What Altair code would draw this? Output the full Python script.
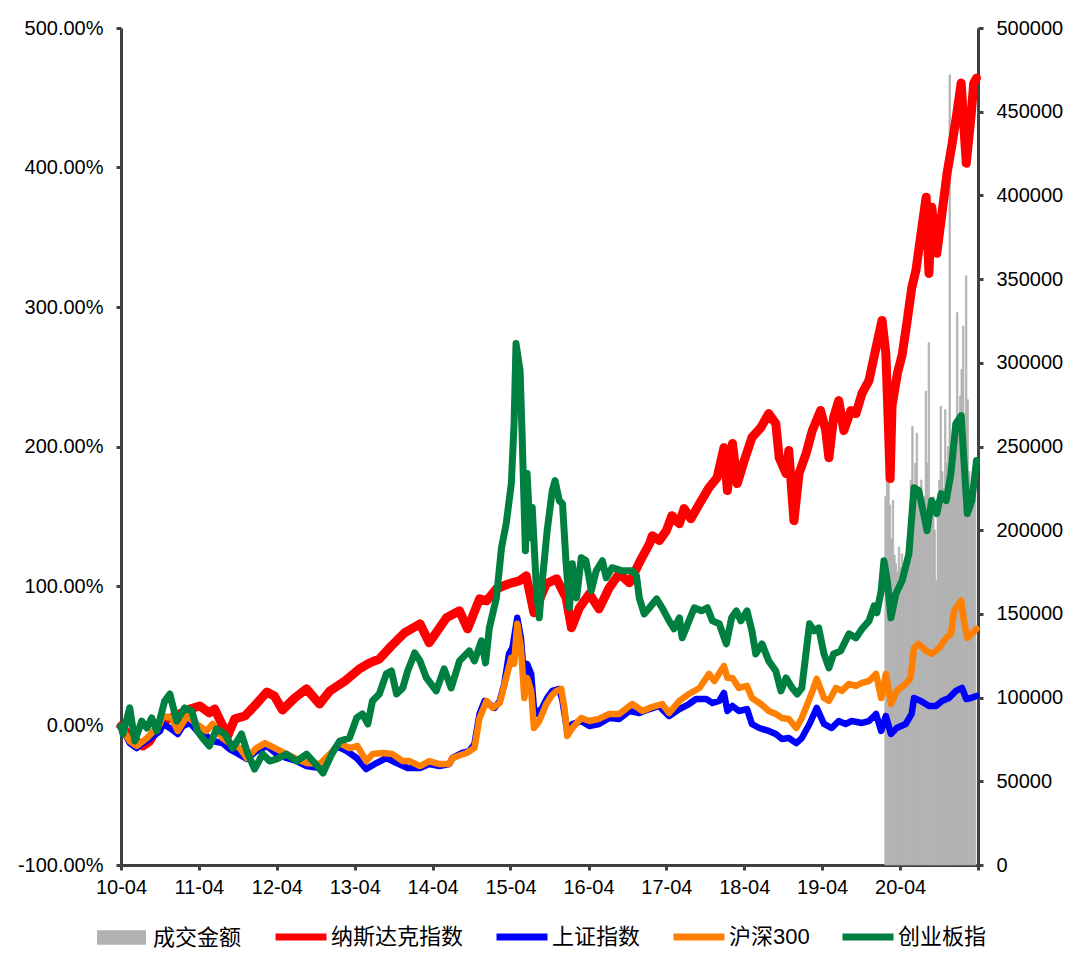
import altair as alt
import pandas as pd

FONT = "Liberation Sans, Arial, 'Noto Sans CJK SC', sans-serif"

SERIES_NAMES = ["纳斯达克指数", "上证指数", "沪深300", "创业板指"]
SERIES_COLORS = ["#ff0000", "#0000ff", "#ff8000", "#008040"]
SERIES_WIDTHS = [9, 6.5, 6.5, 7]
VOLUME_NAME = "成交金额"
VOLUME_COLOR = "#b2b2b2"

# cumulative return (%)
NASDAQ = [
    ("2010-04-01", -0.4), ("2010-05-12", -7.5), ("2010-07-12", -14.7), ("2010-08-14", -11.1),
    ("2010-10-01", 1.8), ("2010-12-10", 6.8), ("2011-02-18", 11.8), ("2011-04-05", 14.0),
    ("2011-05-20", 9.0), ("2011-06-14", 11.8), ("2011-08-14", -7.5), ("2011-09-16", 4.7),
    ("2011-11-03", 6.8), ("2011-12-18", 14.0), ("2012-02-14", 24.0), ("2012-03-20", 21.2),
    ("2012-04-27", 11.1), ("2012-06-23", 19.7), ("2012-08-18", 26.2), ("2012-10-18", 15.4),
    ("2012-12-05", 24.8), ("2013-02-14", 31.9), ("2013-04-23", 40.6), ("2013-06-10", 44.9),
    ("2013-07-25", 47.7), ("2013-09-20", 57.1), ("2013-11-20", 66.4), ("2014-02-01", 72.9),
    ("2014-03-16", 59.3), ("2014-06-05", 77.2), ("2014-08-05", 82.2), ("2014-09-12", 69.3),
    ("2014-11-07", 90.8), ("2014-12-10", 89.4), ("2015-01-25", 98.0), ("2015-03-25", 101.6),
    ("2015-05-12", 103.7), ("2015-06-14", 107.3), ("2015-07-20", 80.8), ("2015-09-16", 101.6),
    ("2015-11-03", 105.2), ("2015-12-18", 91.5), ("2016-01-12", 70.0), ("2016-02-18", 84.4),
    ("2016-04-05", 94.4), ("2016-05-20", 83.6), ("2016-07-07", 98.7), ("2016-08-23", 108.8),
    ("2016-10-10", 102.3), ("2016-11-25", 116.7), ("2017-01-12", 130.3), ("2017-01-25", 136.0),
    ("2017-02-27", 132.5), ("2017-04-01", 139.7), ("2017-04-27", 150.4), ("2017-06-01", 144.7),
    ("2017-06-23", 155.5), ("2017-07-25", 148.2), ("2017-09-03", 159.0), ("2017-10-18", 170.5),
    ("2017-11-25", 177.7), ("2017-12-27", 199.2), ("2018-01-12", 168.4), ("2018-02-05", 202.1),
    ("2018-02-27", 173.4), ("2018-04-01", 189.9), ("2018-05-07", 206.4), ("2018-06-18", 213.6),
    ("2018-07-25", 223.6), ("2018-08-27", 216.4), ("2018-09-12", 192.0), ("2018-10-14", 180.6),
    ("2018-10-27", 197.1), ("2018-11-20", 146.8), ("2018-12-14", 180.6), ("2019-01-16", 195.0),
    ("2019-02-14", 211.4), ("2019-03-25", 225.8), ("2019-04-18", 211.4), ("2019-05-03", 192.0),
    ("2019-05-25", 220.7), ("2019-06-18", 232.9), ("2019-07-12", 211.4), ("2019-08-14", 225.8),
    ("2019-09-07", 223.6), ("2019-10-05", 238.0), ("2019-11-07", 247.3), ("2019-12-10", 271.0),
    ("2020-01-07", 290.4), ("2020-01-25", 266.7), ("2020-02-05", 218.6), ("2020-02-14", 177.0),
    ("2020-02-23", 229.4), ("2020-03-20", 253.1), ("2020-04-10", 265.3), ("2020-05-03", 289.0),
    ("2020-05-25", 313.4), ("2020-06-14", 326.3), ("2020-06-27", 340.6), ("2020-07-12", 357.2),
    ("2020-08-01", 378.7), ("2020-08-14", 324.1), ("2020-08-27", 371.5), ("2020-09-20", 338.5),
    ("2020-10-14", 367.1), ("2020-11-07", 395.8), ("2020-12-01", 417.4), ("2020-12-23", 438.9),
    ("2021-01-12", 460.5), ("2021-01-25", 428.9), ("2021-02-05", 403.1), ("2021-02-27", 436.1),
    ("2021-03-12", 460.5), ("2021-03-25", 464.1),
]

SSE = [
    ("2010-04-01", -0.4), ("2010-05-12", -12.6), ("2010-06-14", -16.2), ("2010-07-12", -12.6),
    ("2010-08-14", -9.7), ("2010-10-01", -3.9), ("2010-10-14", 1.1), ("2010-11-16", -1.8),
    ("2010-12-23", -6.1), ("2011-01-16", -0.4), ("2011-02-18", 1.8), ("2011-03-25", -3.9),
    ("2011-05-07", -7.5), ("2011-06-05", -11.1), ("2011-07-20", -12.6), ("2011-08-23", -16.9),
    ("2011-09-25", -19.7), ("2011-11-12", -24.0), ("2011-12-27", -18.3), ("2012-02-14", -14.7),
    ("2012-04-01", -20.5), ("2012-05-16", -23.3), ("2012-07-03", -25.5), ("2012-08-18", -29.1),
    ("2012-10-18", -30.5), ("2012-11-12", -26.9), ("2013-01-07", -14.7), ("2013-02-23", -18.3),
    ("2013-04-10", -23.3), ("2013-05-25", -31.2), ("2013-07-12", -26.9), ("2013-08-27", -23.3),
    ("2013-10-14", -26.9), ("2013-12-05", -30.5), ("2014-02-01", -30.5), ("2014-03-16", -27.6),
    ("2014-05-03", -29.1), ("2014-06-18", -27.6), ("2014-07-03", -23.3), ("2014-08-18", -19.7),
    ("2014-09-20", -18.3), ("2014-10-14", -13.3), ("2014-11-07", 8.3), ("2014-12-01", 17.6),
    ("2014-12-23", 15.4), ("2015-01-16", 12.6), ("2015-02-10", 17.6), ("2015-03-03", 29.8),
    ("2015-03-25", 51.3), ("2015-04-10", 55.6), ("2015-05-03", 77.2), ("2015-05-20", 62.8),
    ("2015-06-05", 31.9), ("2015-06-18", 44.2), ("2015-07-07", 37.0), ("2015-07-20", 12.6),
    ("2015-08-05", 8.3), ("2015-08-27", 12.6), ("2015-09-20", 19.7), ("2015-10-14", 24.8),
    ("2015-11-16", 26.2), ("2015-12-01", 17.6), ("2015-12-23", -3.9), ("2016-01-16", 1.1),
    ("2016-02-27", 3.2), ("2016-04-05", -0.4), ("2016-05-20", 1.1), ("2016-07-07", 5.4),
    ("2016-08-23", 4.7), ("2016-10-10", 10.4), ("2016-11-25", 9.0), ("2017-01-12", 11.8),
    ("2017-02-27", 14.0), ("2017-03-20", 10.4), ("2017-04-14", 6.8), ("2017-06-01", 11.8),
    ("2017-07-16", 15.4), ("2017-08-18", 19.0), ("2017-10-05", 19.0), ("2017-11-03", 16.2),
    ("2017-12-05", 17.6), ("2017-12-27", 23.3), ("2018-01-12", 10.4), ("2018-02-05", 14.0),
    ("2018-03-07", 10.4), ("2018-04-14", 11.8), ("2018-05-07", 1.1), ("2018-06-10", -1.8),
    ("2018-07-25", -3.9), ("2018-08-27", -6.1), ("2018-09-25", -9.7), ("2018-10-27", -9.0),
    ("2018-12-01", -12.6), ("2018-12-27", -9.0), ("2019-02-01", 1.1), ("2019-03-07", 12.6),
    ("2019-04-10", 1.1), ("2019-05-16", -1.8), ("2019-06-18", 3.2), ("2019-07-20", 1.1),
    ("2019-08-18", 3.2), ("2019-10-05", 1.8), ("2019-11-07", 3.2), ("2019-12-10", 8.3),
    ("2020-01-03", -3.9), ("2020-01-25", 6.8), ("2020-02-18", -6.1), ("2020-03-16", -1.8),
    ("2020-04-27", 1.1), ("2020-05-25", 8.3), ("2020-06-05", 19.7), ("2020-07-07", 17.6),
    ("2020-08-14", 14.0), ("2020-09-16", 14.0), ("2020-10-14", 17.6), ("2020-11-16", 19.7),
    ("2020-12-18", 24.8), ("2021-01-16", 26.9), ("2021-02-05", 19.0), ("2021-02-27", 19.7),
    ("2021-03-25", 21.2),
]

CSI300 = [
    ("2010-04-01", -0.4), ("2010-05-12", -11.1), ("2010-06-14", -14.7), ("2010-08-01", -9.0),
    ("2010-10-01", 1.1), ("2010-10-14", 6.8), ("2010-11-25", 5.4), ("2010-12-23", -3.9),
    ("2011-02-05", 6.8), ("2011-03-20", 1.1), ("2011-05-07", -3.9), ("2011-06-05", 1.1),
    ("2011-07-20", -9.0), ("2011-08-23", -12.6), ("2011-10-10", -16.2), ("2011-11-12", -23.3),
    ("2011-12-27", -16.2), ("2012-02-05", -12.6), ("2012-04-01", -16.9), ("2012-05-16", -20.5),
    ("2012-07-03", -24.0), ("2012-08-18", -26.9), ("2012-10-18", -27.6), ("2012-12-05", -20.5),
    ("2013-01-20", -12.6), ("2013-03-07", -16.2), ("2013-04-14", -14.7), ("2013-05-25", -25.5),
    ("2013-06-23", -20.5), ("2013-08-10", -19.7), ("2013-09-25", -20.5), ("2013-11-12", -25.5),
    ("2013-12-14", -25.5), ("2014-02-01", -29.1), ("2014-03-16", -25.5), ("2014-05-03", -27.6),
    ("2014-06-18", -27.6), ("2014-07-03", -23.3), ("2014-09-07", -19.7), ("2014-10-14", -16.2),
    ("2014-11-07", 5.4), ("2014-12-10", 17.6), ("2015-01-07", 12.6), ("2015-02-10", 16.2),
    ("2015-03-12", 34.1), ("2015-04-05", 48.5), ("2015-04-18", 44.2), ("2015-05-03", 72.9),
    ("2015-05-20", 55.6), ("2015-06-05", 19.7), ("2015-06-18", 34.1), ("2015-07-07", 24.8),
    ("2015-07-20", -1.8), ("2015-08-14", 3.2), ("2015-09-16", 15.4), ("2015-10-10", 21.2),
    ("2015-11-03", 24.8), ("2015-11-25", 26.2), ("2015-12-10", 12.6), ("2015-12-23", -7.5),
    ("2016-01-16", -1.8), ("2016-02-27", 5.4), ("2016-04-05", 3.2), ("2016-05-20", 4.7),
    ("2016-07-07", 8.3), ("2016-08-23", 8.3), ("2016-10-23", 15.4), ("2016-12-10", 10.4),
    ("2017-01-12", 12.6), ("2017-03-12", 15.4), ("2017-04-14", 9.0), ("2017-06-01", 17.6),
    ("2017-07-16", 22.6), ("2017-09-03", 26.9), ("2017-10-18", 37.0), ("2017-11-12", 31.9),
    ("2017-12-27", 42.7), ("2018-01-12", 34.1), ("2018-02-05", 34.1), ("2018-03-07", 26.9),
    ("2018-04-14", 28.4), ("2018-05-07", 19.7), ("2018-06-18", 15.4), ("2018-07-25", 10.4),
    ("2018-08-27", 8.3), ("2018-09-25", 5.4), ("2018-10-27", 4.7), ("2018-12-01", -1.8),
    ("2018-12-27", 5.4), ("2019-02-10", 22.6), ("2019-03-07", 33.4), ("2019-04-10", 19.7),
    ("2019-05-03", 17.6), ("2019-06-05", 26.9), ("2019-07-03", 24.8), ("2019-08-05", 29.8),
    ("2019-09-07", 28.4), ("2019-10-05", 30.5), ("2019-11-07", 31.9), ("2019-12-10", 37.0),
    ("2020-01-03", 19.7), ("2020-01-25", 37.0), ("2020-02-18", 15.4), ("2020-03-16", 24.8),
    ("2020-04-27", 29.8), ("2020-05-20", 34.1), ("2020-06-05", 55.6), ("2020-06-27", 58.5),
    ("2020-08-01", 53.5), ("2020-08-27", 51.3), ("2020-10-01", 55.6), ("2020-11-03", 62.8),
    ("2020-11-25", 65.7), ("2020-12-10", 82.2), ("2021-01-12", 89.4), ("2021-01-25", 75.0),
    ("2021-02-10", 62.8), ("2021-03-03", 65.7), ("2021-03-25", 69.3),
]

CHINEXT = [
    ("2010-04-01", -0.4), ("2010-04-10", -6.1), ("2010-05-12", 12.6), ("2010-06-05", -11.1),
    ("2010-07-07", 3.2), ("2010-08-01", -1.8), ("2010-08-23", 5.4), ("2010-09-16", -3.9),
    ("2010-10-23", 17.6), ("2010-11-16", 22.6), ("2010-12-18", 3.2), ("2011-01-25", 12.6),
    ("2011-02-27", 10.4), ("2011-03-25", -3.9), ("2011-04-18", -9.0), ("2011-05-20", -14.7),
    ("2011-06-23", -2.5), ("2011-08-01", -6.1), ("2011-09-07", -16.2), ("2011-10-18", -6.1),
    ("2011-11-12", -18.3), ("2011-12-18", -31.2), ("2012-01-25", -20.5), ("2012-02-27", -25.5),
    ("2012-04-01", -24.0), ("2012-05-16", -20.5), ("2012-07-03", -25.5), ("2012-08-18", -20.5),
    ("2012-09-25", -26.9), ("2012-11-03", -34.1), ("2012-12-14", -20.5), ("2013-01-20", -11.1),
    ("2013-03-07", -9.0), ("2013-04-10", 5.4), ("2013-05-07", 8.3), ("2013-06-01", 1.1),
    ("2013-06-23", 17.6), ("2013-07-25", 22.6), ("2013-08-27", 37.0), ("2013-09-20", 39.1),
    ("2013-10-14", 22.6), ("2013-11-12", 26.9), ("2013-12-05", 39.1), ("2014-01-07", 52.0),
    ("2014-02-01", 46.3), ("2014-03-03", 34.1), ("2014-04-18", 24.8), ("2014-05-25", 40.6),
    ("2014-06-27", 26.9), ("2014-08-05", 46.3), ("2014-09-20", 53.5), ("2014-10-14", 46.3),
    ("2014-11-16", 60.7), ("2014-12-05", 44.9), ("2014-12-23", 70.0), ("2015-01-25", 91.5),
    ("2015-02-18", 127.4), ("2015-03-12", 144.7), ("2015-04-05", 173.4), ("2015-04-18", 216.4),
    ("2015-04-27", 273.9), ("2015-05-16", 254.5), ("2015-05-25", 211.4), ("2015-06-10", 125.3),
    ("2015-06-18", 180.6), ("2015-07-03", 134.6), ("2015-07-12", 156.2), ("2015-08-01", 96.6),
    ("2015-08-14", 77.2), ("2015-08-27", 101.6), ("2015-09-20", 139.7), ("2015-10-14", 168.4),
    ("2015-10-27", 175.6), ("2015-11-16", 161.2), ("2015-12-01", 159.0), ("2015-12-18", 115.9),
    ("2016-01-03", 84.4), ("2016-01-16", 115.9), ("2016-02-05", 91.5), ("2016-02-27", 120.3),
    ("2016-03-20", 118.1), ("2016-04-14", 96.6), ("2016-05-07", 110.9), ("2016-06-05", 118.1),
    ("2016-06-23", 105.9), ("2016-07-20", 113.1), ("2016-09-07", 110.9), ("2016-10-23", 110.9),
    ("2016-11-12", 107.3), ("2016-11-25", 91.5), ("2016-12-18", 80.0), ("2017-01-12", 84.4),
    ("2017-02-14", 90.8), ("2017-03-12", 84.4), ("2017-04-14", 75.0), ("2017-05-07", 69.3),
    ("2017-06-01", 77.2), ("2017-06-14", 62.8), ("2017-07-16", 75.0), ("2017-08-10", 84.4),
    ("2017-09-12", 82.2), ("2017-10-10", 84.4), ("2017-11-03", 75.0), ("2017-12-05", 72.9),
    ("2018-01-07", 58.5), ("2018-02-01", 77.2), ("2018-02-23", 82.2), ("2018-03-16", 75.0),
    ("2018-04-14", 82.2), ("2018-05-07", 67.8), ("2018-05-25", 51.3), ("2018-06-23", 58.5),
    ("2018-07-25", 46.3), ("2018-08-27", 39.1), ("2018-09-20", 24.8), ("2018-10-14", 34.1),
    ("2018-11-12", 26.9), ("2018-12-05", 22.6), ("2018-12-27", 26.9), ("2019-02-01", 72.9),
    ("2019-02-23", 67.8), ("2019-03-16", 70.0), ("2019-04-10", 51.3), ("2019-05-03", 41.3),
    ("2019-05-25", 51.3), ("2019-06-27", 53.5), ("2019-08-05", 65.7), ("2019-09-07", 62.8),
    ("2019-10-05", 69.3), ("2019-11-07", 75.0), ("2019-12-01", 85.8), ("2019-12-14", 80.8),
    ("2020-01-03", 96.6), ("2020-01-16", 118.1), ("2020-02-01", 103.7), ("2020-02-18", 77.2),
    ("2020-03-12", 94.4), ("2020-04-10", 103.7), ("2020-05-12", 123.1), ("2020-06-05", 170.5),
    ("2020-06-27", 168.4), ("2020-07-20", 151.9), ("2020-08-05", 139.7), ("2020-08-27", 161.2),
    ("2020-09-20", 151.9), ("2020-10-10", 166.2), ("2020-11-03", 161.2), ("2020-11-25", 180.6),
    ("2020-12-18", 216.4), ("2021-01-12", 222.1), ("2021-01-25", 189.9), ("2021-02-10", 151.9),
    ("2021-03-03", 161.2), ("2021-03-25", 189.9),
]

# trading amount, weekly bars starting at VOLUME_START
VOLUME_START = "2020-01-20"
VOLUME = [
    220000, 235000, 250000, 215000, 195000, 218000, 185000, 180000, 175000, 190000,
    178000, 186000, 170000, 175000, 182000, 190000, 200000, 230000, 262000, 225000,
    240000, 258000, 225000, 215000, 230000, 210000, 220000, 283000, 240000, 312000,
    215000, 205000, 220000, 200000, 170000, 210000, 230000, 274000, 235000, 225000,
    272000, 240000, 250000, 472000, 245000, 255000, 235000, 250000, 330000, 260000,
    280000, 296000, 322000, 270000, 352000, 278000, 235000, 220000, 230000, 215000,
    225000,
]

LEFT_TICKS = [-100, 0, 100, 200, 300, 400, 500]
RIGHT_TICKS = list(range(0, 500001, 50000))
X_TICK_YEARS = list(range(2010, 2022))

x_scale = alt.Scale(domain=[alt.DateTime(year=2010, month=4, date=1),
                            alt.DateTime(year=2021, month=4, date=1)])
x_axis = alt.Axis(
    title=None,
    values=[alt.DateTime(year=y, month=4, date=1) for y in X_TICK_YEARS],
    labelExpr="year(datum.value) >= 2021 ? '' : timeFormat(datum.value, '%y-%m')",
    labelFlush=False, labelOverlap=False, labelPadding=7,
)
left_axis = alt.Axis(
    title=None, orient="left", values=LEFT_TICKS,
    labelExpr="replace(format(datum.value, '.2f'), '\u2212', '-') + '%'",
    labelOverlap=False,
)
right_axis = alt.Axis(
    title=None, orient="right", values=RIGHT_TICKS, format="d", labelOverlap=False,
)

bar_legend = alt.Legend(
    title=None, orient="none", legendX=-24, legendY=885, direction="horizontal",
    symbolType="M-1,-0.3H1V0.3H-1Z", symbolSize=2401, symbolStrokeWidth=0,
    labelFont=FONT, labelFontSize=22, labelColor="#000000", labelOffset=7, padding=0,
)
line_legend = alt.Legend(
    title=None, orient="none", legendX=151, legendY=880, direction="horizontal",
    symbolType="stroke", symbolSize=2600, symbolStrokeWidth=7,
    labelFont=FONT, labelFontSize=22, labelColor="#000000", labelOffset=1,
    columnPadding=18, padding=0,
)

vol_start = pd.date_range(VOLUME_START, periods=len(VOLUME), freq="7D")
vol_df = pd.DataFrame({
    "start": vol_start.strftime("%Y-%m-%d"),
    "end": (vol_start + pd.Timedelta(days=7)).strftime("%Y-%m-%d"),
    "amount": VOLUME,
    "name": VOLUME_NAME,
})

bars = alt.Chart(vol_df).mark_rect(stroke=VOLUME_COLOR, strokeWidth=0.7).encode(
    x=alt.X("start:T", scale=x_scale, axis=x_axis),
    x2="end:T",
    y=alt.Y("amount:Q", scale=alt.Scale(domain=[0, 500000], nice=False), axis=right_axis),
    y2=alt.datum(0),
    fill=alt.Fill("name:N", scale=alt.Scale(domain=[VOLUME_NAME], range=[VOLUME_COLOR]),
                  legend=bar_legend),
)

stroke_scale = alt.Scale(domain=SERIES_NAMES, range=SERIES_COLORS)
y_left_scale = alt.Scale(domain=[-100, 500], nice=False, zero=False)


def line_layer(data, name, width):
    df = pd.DataFrame(data, columns=["date", "value"])
    df["series"] = name
    return alt.Chart(df).mark_line(strokeWidth=width, strokeJoin="round", strokeCap="round").encode(
        x=alt.X("date:T", scale=x_scale, axis=x_axis),
        y=alt.Y("value:Q", scale=y_left_scale, axis=left_axis),
        stroke=alt.Stroke("series:N", scale=stroke_scale, legend=line_legend),
    )


lines = alt.layer(
    line_layer(NASDAQ, SERIES_NAMES[0], SERIES_WIDTHS[0]),
    line_layer(SSE, SERIES_NAMES[1], SERIES_WIDTHS[1]),
    line_layer(CSI300, SERIES_NAMES[2], SERIES_WIDTHS[2]),
    line_layer(CHINEXT, SERIES_NAMES[3], SERIES_WIDTHS[3]),
)

chart = alt.layer(bars, lines).resolve_scale(y="independent").properties(
    width=857, height=837,
    padding={"left": 113, "top": 20, "right": 90, "bottom": 100},
    autosize=alt.AutoSizeParams(type="none"),
    background="#ffffff",
).configure_view(strokeWidth=0).configure_axis(
    domainColor="#404040", domainWidth=3, tickColor="#404040", tickWidth=3, tickSize=5,
    labelFont=FONT, labelFontSize=20, labelColor="#000000", grid=False, labelPadding=13,
)

chart.save("out.html", embed_options={"renderer": "svg", "actions": False})
